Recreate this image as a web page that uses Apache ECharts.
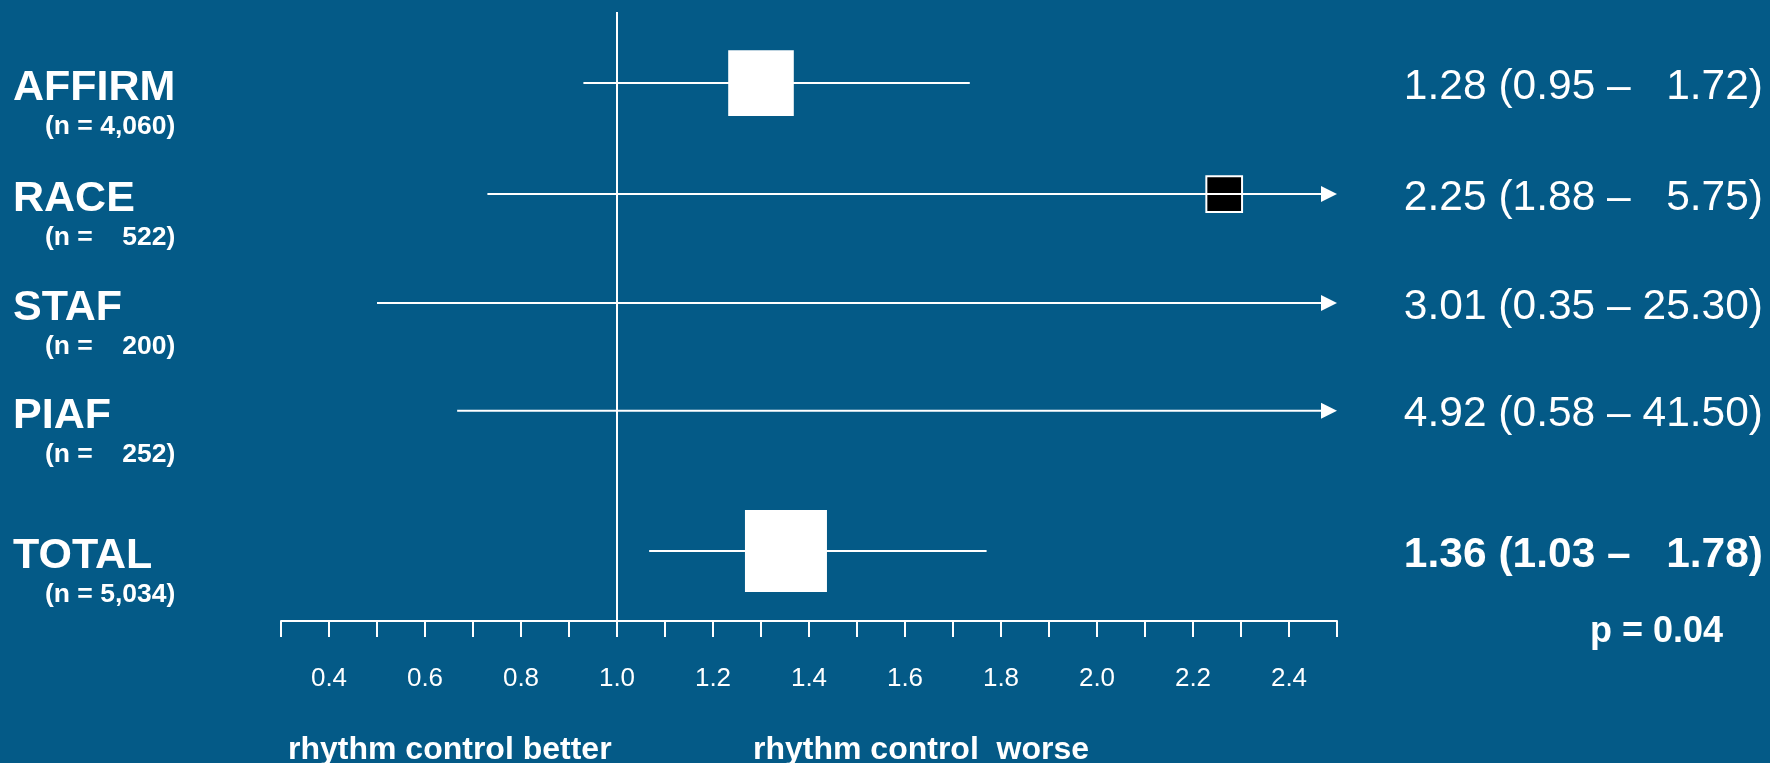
<!DOCTYPE html>
<html>
<head>
<meta charset="utf-8">
<title>Rhythm vs rate control - forest plot</title>
<script src="https://cdn.jsdelivr.net/npm/echarts@6/dist/echarts.min.js"></script>
<style>
  html, body { margin: 0; padding: 0; background: #045a87; }
  #chart { width: 1770px; height: 763px; }
</style>
</head>
<body>
<div id="chart"></div>
<script>
  // trials
  var studies = ['AFFIRM', 'RACE', 'STAF', 'PIAF', 'TOTAL'];
  var sampleSizes = ['(n = 4,060)', '(n =    522)', '(n =    200)', '(n =    252)', '(n = 5,034)'];
  var rowPos = [1, 2.02, 3.02, 4.01, 5.3];
  // odds ratio as drawn: box centre, whisker ends (null = box not on scale)
  var pointEst = [1.30, 2.265, null, null, 1.352];
  var lowerCI = [0.93, 0.73, 0.50, 0.667, 1.067];
  var upperCI = [1.735, 5.75, 25.30, 41.50, 1.77];
  var boxWeight = [0.8, 0.46, 0, 0, 1];
  var resultText = ['1.28 (0.95 \u2013   1.72)', '2.25 (1.88 \u2013   5.75)', '3.01 (0.35 \u2013 25.30)',
                    '4.92 (0.58 \u2013 41.50)', '1.36 (1.03 \u2013   1.78)'];
  var tickLabels = ['0.4', '0.6', '0.8', '1.0', '1.2', '1.4', '1.6', '1.8', '2.0', '2.2', '2.4'];

  var xMin = 0.3, xMax = 2.5;
  var FONT = '"Liberation Sans", Arial, Helvetica, sans-serif';

  var chart = echarts.init(document.getElementById('chart'));

  function renderItem(params, api) {
    var i = api.value(2);
    var y = api.coord([1, rowPos[i]])[1];
    var xLo = api.coord([lowerCI[i], rowPos[i]])[0];
    var capped = upperCI[i] > xMax;
    var xHi = api.coord([Math.min(upperCI[i], xMax), rowPos[i]])[0];
    var isTotal = studies[i] === 'TOTAL';
    var children = [];

    // box
    if (pointEst[i] != null) {
      var xc = api.coord([pointEst[i], rowPos[i]])[0];
      var s = boxWeight[i] * 82;
      var dark = studies[i] === 'RACE';
      children.push({
        type: 'rect',
        shape: dark ? { x: xc - s / 2 + 1, y: y - s / 2 + 1, width: s - 2, height: s - 2 }
                    : { x: xc - s / 2, y: y - s / 2, width: s, height: s },
        style: dark ? { fill: '#000', stroke: '#fff', lineWidth: 2 } : { fill: '#fff' }
      });
    }
    // whisker
    children.push({
      type: 'line',
      shape: { x1: xLo, y1: y, x2: capped ? xHi - 14 : xHi, y2: y },
      style: { stroke: '#fff', lineWidth: 2 }
    });
    // arrow for CI running off the scale
    if (capped) {
      children.push({
        type: 'polygon',
        shape: { points: [[xHi, y], [xHi - 16, y - 8], [xHi - 16, y + 8]] },
        style: { fill: '#fff' }
      });
    }
    // left labels
    children.push({
      type: 'text',
      style: { text: studies[i], x: 13, y: y + 5, fill: '#fff', align: 'left', verticalAlign: 'middle',
               fontSize: 43, fontWeight: 'bold', fontFamily: FONT }
    });
    children.push({
      type: 'text',
      style: { text: sampleSizes[i], x: 45, y: y + 44, fill: '#fff', align: 'left', verticalAlign: 'middle',
               fontSize: 26.5, fontWeight: 'bold', fontFamily: FONT }
    });
    // right result text
    children.push({
      type: 'text',
      style: { text: resultText[i], x: 1763, y: y + 4, fill: '#fff', align: 'right', verticalAlign: 'middle',
               fontSize: 42.5, fontWeight: isTotal ? 'bold' : 'normal', fontFamily: FONT }
    });
    return { type: 'group', children: children };
  }

  chart.setOption({
    backgroundColor: '#045a87',
    animation: false,
    grid: { left: 281, right: 433, top: 12, bottom: 142 },
    xAxis: {
      type: 'value',
      min: xMin,
      max: xMax,
      interval: 0.1,
      splitLine: { show: false },
      axisLine: { show: true, lineStyle: { color: '#fff', width: 2 } },
      axisTick: { show: true, inside: false, length: 16, lineStyle: { color: '#fff', width: 2 } },
      axisLabel: {
        color: '#fff',
        fontSize: 26,
        fontFamily: FONT,
        margin: 45,
        formatter: function (v) {
          var t = (Math.round(v * 10) / 10).toFixed(1);
          return tickLabels.indexOf(t) >= 0 ? t : '';
        }
      }
    },
    yAxis: {
      type: 'value',
      inverse: true,
      min: 0.347,
      max: 5.942,
      show: false
    },
    series: [{
      type: 'custom',
      clip: false,
      renderItem: renderItem,
      encode: { x: 0, y: 1 },
      data: studies.map(function (s, i) { return [lowerCI[i], rowPos[i], i]; }),
      markLine: {
        silent: true,
        symbol: 'none',
        label: { show: false },
        lineStyle: { color: '#fff', width: 2, type: 'solid' },
        data: [{ xAxis: 1 }]
      }
    }],
    graphic: [
      { type: 'text', left: 1590, top: 614,
        style: { text: 'p = 0.04', fill: '#fff', fontSize: 36, fontWeight: 'bold', fontFamily: FONT } },
      { type: 'text', left: 288, top: 734,
        style: { text: 'rhythm control better', fill: '#fff', fontSize: 32, fontWeight: 'bold', fontFamily: FONT } },
      { type: 'text', left: 753, top: 734,
        style: { text: 'rhythm control  worse', fill: '#fff', fontSize: 32, fontWeight: 'bold', fontFamily: FONT } }
    ]
  });
</script>
</body>
</html>
